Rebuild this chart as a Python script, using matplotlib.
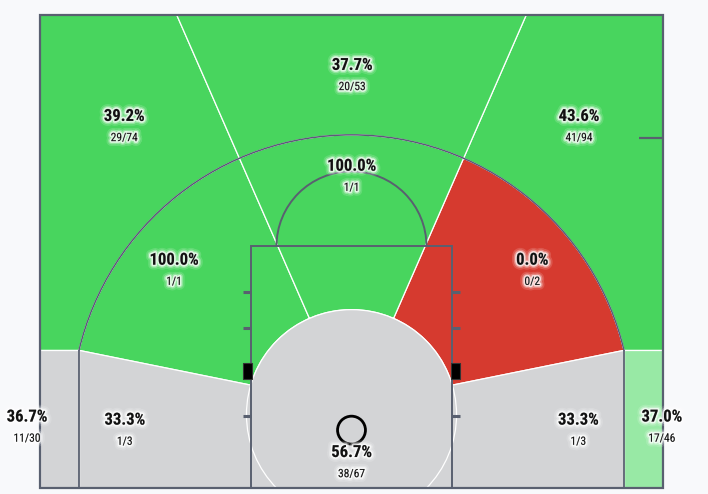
import numpy as np
import matplotlib
matplotlib.use('Agg')
import matplotlib.pyplot as plt
from matplotlib.patches import Polygon, Circle, Rectangle, Arc
import matplotlib.patheffects as pe

# ---------------- data ----------------
zones = ['Restricted Area', 'Left Mid', 'Top Mid', 'Right Mid',
         'Left Baseline Mid', 'Right Baseline Mid',
         'Left Corner 3', 'Right Corner 3', 'Left Wing 3', 'Top 3', 'Right Wing 3']
makes = [38, 1, 1, 0, 1, 1, 11, 17, 29, 20, 41]
attempts = [67, 1, 1, 2, 3, 3, 30, 46, 74, 53, 94]

# ---------------- style ----------------
GREEN = '#48D55E'
RED = '#D63A2F'
GRAY = '#D3D4D6'
LGREEN = '#98E9A5'
BG = '#F8F9FB'
LINE = '#596070'
FONT = ['Roboto Condensed', 'Roboto', 'DejaVu Sans']

zone_colors = {
    'Restricted Area': GRAY, 'Left Mid': GREEN, 'Top Mid': GREEN, 'Right Mid': RED,
    'Left Baseline Mid': GRAY, 'Right Baseline Mid': GRAY,
    'Left Corner 3': GRAY, 'Right Corner 3': LGREEN,
    'Left Wing 3': GREEN, 'Top 3': GREEN, 'Right Wing 3': GREEN,
}
label_pos = {
    'Restricted Area': (0.0, 2.85), 'Left Mid': (-14.25, 18.3), 'Top Mid': (0.0, 25.85),
    'Right Mid': (14.5, 18.3), 'Left Baseline Mid': (-18.2, 5.45),
    'Right Baseline Mid': (18.2, 5.45), 'Left Corner 3': (-26.05, 5.7),
    'Right Corner 3': (24.9, 5.7), 'Left Wing 3': (-18.25, 29.85),
    'Top 3': (0.05, 33.95), 'Right Wing 3': (18.25, 29.85),
}

# ---------------- geometry (feet) ----------------
W, H = 25.0, 38.0
CX, CY = 0.0, 5.9        # centre of zone geometry
R3 = 22.47               # three point arc radius
RR = 8.43                # restricted circle radius
XC = 21.87               # corner three line
YM = CY + np.sqrt(R3**2 - XC**2)
OFF = 23.6               # upper ray offset from vertical (deg)
THL, THR = 90 + OFF, 90 - OFF
PHL = np.degrees(np.arctan2(YM - CY, -XC))
PHR = 180 - PHL
PL_ANG = 163.7
PR_ANG = 180 - PL_ANG


def pt(r, a):
    a = np.radians(a)
    return (CX + r * np.cos(a), CY + r * np.sin(a))


def arc_pts(r, a0, a1, n=120):
    a = np.radians(np.linspace(a0, a1, n))
    return list(zip(CX + r * np.cos(a), CY + r * np.sin(a)))


xtop = (H - CY) * np.tan(np.radians(OFF))

polys = {
    'Left Mid': [(-XC, YM)] + arc_pts(R3, PHL, THL) + arc_pts(RR, THL, PL_ANG),
    'Right Mid': [(XC, YM)] + arc_pts(R3, PHR, THR) + arc_pts(RR, THR, PR_ANG),
    'Top Mid': arc_pts(R3, THR, THL) + arc_pts(RR, THL, THR),
    'Left Baseline Mid': [(-XC, YM), pt(RR, PL_ANG), (CX, CY), (0, 0), (-XC, 0)],
    'Right Baseline Mid': [(XC, YM), pt(RR, PR_ANG), (CX, CY), (0, 0), (XC, 0)],
    'Left Corner 3': [(-W, 0), (-XC, 0), (-XC, YM), (-W, YM)],
    'Right Corner 3': [(W, 0), (XC, 0), (XC, YM), (W, YM)],
    'Left Wing 3': [(-W, YM), (-XC, YM)] + arc_pts(R3, PHL, THL) + [(-xtop, H), (-W, H)],
    'Right Wing 3': [(W, YM), (XC, YM)] + arc_pts(R3, PHR, THR) + [(xtop, H), (W, H)],
    'Top 3': [(-xtop, H)] + arc_pts(R3, THL, THR) + [(xtop, H)],
}

fig = plt.figure(figsize=(7.08, 4.94), dpi=100)
fig.patch.set_facecolor(BG)
ax = fig.add_axes([40 / 708, 6 / 494, 623 / 708, 473 / 494])
ax.set_xlim(-W, W)
ax.set_ylim(0, H)
ax.axis('off')

for name, verts in polys.items():
    ax.add_patch(Polygon(verts, closed=True, facecolor=zone_colors[name],
                         edgecolor='white', lw=0.9, zorder=1))
ax.add_patch(Circle((CX, CY), RR, facecolor=zone_colors['Restricted Area'],
                    edgecolor='white', lw=0.9, zorder=2))

# ---------------- court lines ----------------
lk = dict(color=LINE, lw=1.3, zorder=5, solid_capstyle='butt')
ax.plot([-XC, -XC], [0, YM], **lk)
ax.plot([XC, XC], [0, YM], **lk)
ax.add_patch(Arc((CX, CY), 2 * R3, 2 * R3, theta1=PHR, theta2=PHL,
                 color='#5B5A78', lw=1.1, zorder=5))
PW, PH = 8.03, 19.42
ax.add_patch(Rectangle((-PW, 0), 2 * PW, PH, fill=False, edgecolor=LINE, lw=1.4, zorder=5))
ax.add_patch(Arc((0, PH), 12.04, 12.04, theta1=0, theta2=180, color=LINE, lw=1.4, zorder=5))
for yy in (15.73, 12.84, 5.8):
    ax.plot([-8.7, -PW], [yy, yy], color=LINE, lw=2.2, zorder=5, solid_capstyle='butt')
    ax.plot([PW, 8.7], [yy, yy], color=LINE, lw=2.2, zorder=5, solid_capstyle='butt')
for sx in (-1, 1):
    x0 = -8.7 if sx < 0 else PW - 0.05
    ax.add_patch(Rectangle((x0, 8.75), 0.75, 1.28, facecolor='black',
                           edgecolor='#333333', lw=0.8, zorder=6))
ax.plot([23.07, W], [28.1, 28.1], color=LINE, lw=1.6, zorder=5, solid_capstyle='butt')
ax.add_patch(Circle((0, 4.65), 1.12, fill=False, edgecolor='black', lw=2.0, zorder=7))
ax.add_patch(Rectangle((-W, 0), 2 * W, H, fill=False, edgecolor=LINE, lw=1.6,
                       zorder=8, clip_on=False))

# ---------------- labels ----------------
glow = [pe.withStroke(linewidth=7, foreground='white', alpha=0.15),
        pe.withStroke(linewidth=4.5, foreground='white', alpha=0.3),
        pe.withStroke(linewidth=2.5, foreground='white', alpha=0.7)]
for name, m, a in zip(zones, makes, attempts):
    x, y = label_pos[name]
    pct = 100.0 * m / a
    ax.text(x, y, f'{pct:.1f}%', ha='center', va='center', fontsize=12,
            fontweight='bold', family=FONT, color='#111111',
            zorder=10, clip_on=False, path_effects=glow)
    ax.text(x, y - 1.7, f'{m}/{a}', ha='center', va='center', fontsize=8.3,
            family=FONT, color='#111111',
            zorder=10, clip_on=False, path_effects=glow)

fig.savefig('out.png', dpi=100, facecolor=BG)
